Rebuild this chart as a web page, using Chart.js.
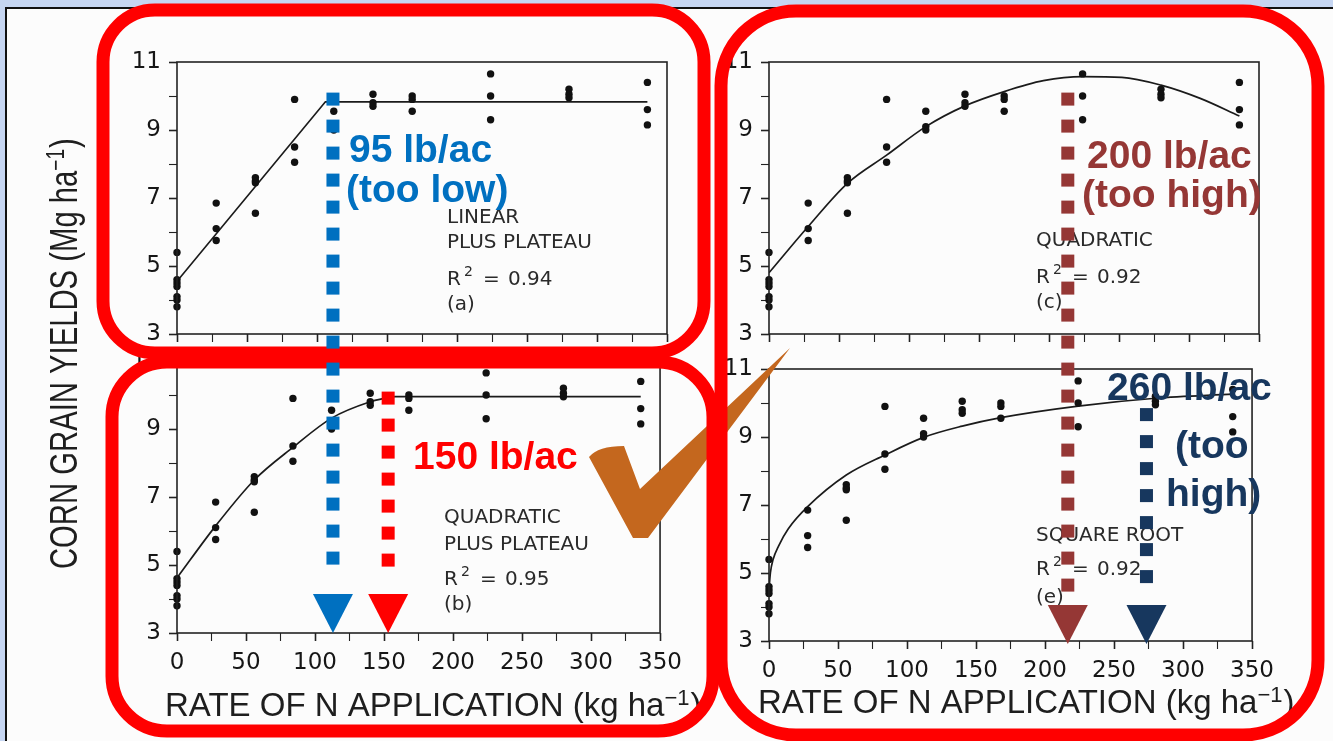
<!DOCTYPE html>
<html>
<head>
<meta charset="utf-8">
<script src="https://cdn.jsdelivr.net/npm/chart.js@4.4.1/dist/chart.umd.min.js"></script>
<style>
  html, body { margin: 0; padding: 0; }
  body { width: 1333px; height: 741px; background: #c6d6f2; position: relative; overflow: hidden; }
  #sheet { position: absolute; left: 5px; top: 7px; width: 1328px; height: 734px; background: #fcfcfc;
           border-left: 2px solid #111; border-top: 2px solid #111; box-sizing: border-box; }
  canvas.panel { position: absolute; }
  #overlay { position: absolute; left: 0; top: 0; pointer-events: none; }
</style>
</head>
<body>
<div id="sheet"></div>
<canvas id="chartA" class="panel" width="600" height="320" style="left:90px;top:40px"></canvas>
<canvas id="chartB" class="panel" width="600" height="344" style="left:90px;top:339px"></canvas>
<canvas id="chartC" class="panel" width="600" height="320" style="left:682px;top:40px"></canvas>
<canvas id="chartE" class="panel" width="600" height="344" style="left:682px;top:347px"></canvas>
<canvas id="overlay" width="1333" height="741"></canvas>

<script>
/* ---- observed yields (Mg/ha) per N rate (kg/ha) ---- */
const nRates    = [0, 28, 56, 84, 112, 140, 168, 224, 280, 336];
const yields0   = [5.4, 4.6, 4.5, 4.4, 4.1, 4.0, 3.8];
const yields28  = [6.85, 6.1, 5.75];
const yields56  = [7.6, 7.5, 7.45, 6.55];
const yields84  = [9.9, 8.5, 8.05];
const yields112 = [9.55, 9.1, 9.0];
const yields140 = [10.05, 9.8, 9.7];
const yields168 = [10.0, 9.9, 9.55];
const yields224 = [10.65, 10.0, 9.3];
const yields280 = [10.2, 10.05, 9.95];
const yields336 = [10.4, 9.6, 9.15];
const yieldsByRate = [yields0, yields28, yields56, yields84, yields112,
                      yields140, yields168, yields224, yields280, yields336];

/* ---- fitted curves ---- */
const linPlatN  = [0, 106, 336];
const linPlatY  = [4.55, 9.83, 9.83];
const quadPlatN = [0, 28, 56, 84, 112, 140, 150, 158, 336];
const quadPlatY = [4.62, 6.15, 7.5, 8.46, 9.32, 9.8, 9.9, 9.95, 9.95];
const quadN     = [0, 28, 56, 84, 112, 140, 168, 196, 224, 252, 280, 308, 336];
const quadY     = [4.8, 6.16, 7.43, 8.26, 9.1, 9.71, 10.13, 10.45, 10.57, 10.55, 10.32, 9.93, 9.41];
const sqrtN     = [0, 1, 3, 7, 14, 28, 56, 84, 112, 140, 168, 224, 280, 336];
const sqrtY     = [4.5, 5.0, 5.4, 5.8, 6.3, 6.95, 7.88, 8.47, 8.99, 9.32, 9.57, 9.91, 10.14, 10.26];

/* ---- tick labels ---- */
const xTickLabels = [0, 50, 100, 150, 200, 250, 300, 350];
const yTickLabels = [3, 5, 7, 9, 11];

/* ---- panel notes ---- */
const notesA = ['LINEAR', 'PLUS PLATEAU'];
const notesB = ['QUADRATIC', 'PLUS PLATEAU'];
const notesC = ['QUADRATIC'];
const notesE = ['SQUARE ROOT'];
const r2Values  = ['0.94', '0.95', '0.92', '0.92'];
const panelTags = ['(a)', '(b)', '(c)', '(e)'];

/* ---- economic optimum arrows (kg N/ha on the x scale) ---- */
const optimumRates  = [113, 153, 216.5, 273.5];
const optimumTopY   = [10.1, 10.1, 10.1, 9.85];
const optimumColors = ['#0070c0', '#ff0000', '#953735', '#17375e'];

const TICK_FONT = { family: 'DejaVu Sans', size: 23 };

const framePlugin = {
  id: 'frame',
  afterDatasetsDraw(chart) {
    const { ctx, chartArea: a } = chart;
    ctx.save();
    ctx.strokeStyle = '#222';
    ctx.lineWidth = 1.6;
    ctx.strokeRect(a.left, a.top, a.right - a.left, a.bottom - a.top);
    ctx.restore();
  }
};

function makePanel(id, curveN, curveY, opts) {
  const pts = [];
  nRates.forEach((n, i) => yieldsByRate[i].forEach(v => pts.push({ x: n, y: v })));
  const curve = curveN.map((n, i) => ({ x: n, y: curveY[i] }));

  return new Chart(document.getElementById(id), {
    type: 'scatter',
    data: {
      datasets: [
        {
          data: curve,
          showLine: true,
          borderColor: '#1b1b1b',
          borderWidth: 1.7,
          pointRadius: 0,
          tension: 0,
          cubicInterpolationMode: opts.straight ? 'default' : 'monotone',
          order: 2,
        },
        {
          data: pts,
          pointRadius: 3.7,
          pointBackgroundColor: '#111',
          pointBorderWidth: 0,
          clip: false,
          order: 1,
        },
      ],
    },
    options: {
      responsive: false,
      animation: false,
      events: [],
      layout: { padding: { top: 22, right: 23, left: 0, bottom: 0 } },
      plugins: { legend: { display: false }, tooltip: { enabled: false } },
      scales: {
        x: {
          type: 'linear', min: 0, max: 350,
          afterFit: s => { s.height = opts.xh; },
          ticks: {
            stepSize: 25, autoSkip: false, maxRotation: 0, padding: 8,
            color: '#161616', font: TICK_FONT,
            callback: v => (opts.xLabels && xTickLabels.includes(v)) ? v : '',
          },
          grid: {
            drawOnChartArea: false, tickLength: 8, tickColor: '#222',
            tickWidth: c => (c.tick && c.tick.value % 50 === 0) ? 1.6 : 1.1,
          },
          border: { display: false },
        },
        y: {
          min: 3, max: 11,
          afterFit: s => { s.width = 87; },
          ticks: {
            stepSize: 1, padding: 8, color: '#161616', font: TICK_FONT,
            callback: v => yTickLabels.includes(v) ? v : '',
          },
          grid: {
            drawOnChartArea: false, tickLength: 8, tickColor: '#222',
            tickWidth: c => (c.tick && c.tick.value % 2 === 1) ? 1.6 : 1.1,
          },
          border: { display: false },
        },
      },
    },
    plugins: [framePlugin],
  });
}

const chartA = makePanel('chartA', linPlatN, linPlatY, { straight: true, xLabels: false, xh: 26 });
const chartB = makePanel('chartB', quadPlatN, quadPlatY, { straight: false, xLabels: true, xh: 50 });
const chartC = makePanel('chartC', quadN, quadY, { straight: false, xLabels: false, xh: 26 });
const chartE = makePanel('chartE', sqrtN, sqrtY, { straight: false, xLabels: true, xh: 50 });

/* ---- overlay: titles, notes, slide annotations ---- */
const ov = document.getElementById('overlay').getContext('2d');

function canvasOffset(chart) {
  const el = chart.canvas;
  return { x: el.offsetLeft, y: el.offsetTop };
}
function px(chart, n) { return canvasOffset(chart).x + chart.scales.x.getPixelForValue(n); }
function py(chart, v) { return canvasOffset(chart).y + chart.scales.y.getPixelForValue(v); }

// text with a raised part, e.g. ha^-1
function supText(parts, x, y, size, supSize, rise) {
  parts.forEach(p => {
    ov.font = `${p.sup ? supSize : size}px "Liberation Sans", Arial, sans-serif`;
    ov.fillText(p.t, x, p.sup ? y - rise : y);
    x += ov.measureText(p.t).width + (p.sup ? 1 : 0);
  });
}

ov.fillStyle = '#1e1e1e';
ov.textBaseline = 'alphabetic';
const xTitle = [{ t: 'RATE OF N APPLICATION (kg ha' }, { t: '\u22121', sup: true }, { t: ')' }];
supText(xTitle, 165, 716, 33, 22, 11);
supText(xTitle, 758, 713, 33, 22, 11);

// y title, condensed and rotated
ov.save();
ov.translate(77, 354);
ov.rotate(-Math.PI / 2);
ov.scale(0.77, 1);
const yTitle = [{ t: 'CORN GRAIN YIELDS (Mg ha' }, { t: '\u22121', sup: true }, { t: ')' }];
let yw = 0;
yTitle.forEach(p => { ov.font = `${p.sup ? 25 : 38}px "Liberation Sans"`; yw += ov.measureText(p.t).width; });
supText(yTitle, -yw / 2, 0, 38, 25, 13);
ov.restore();

// panel notes
function panelNote(chart, lines, lineY, r2, r2Y, tag, tagY, dx) {
  const a = chart.chartArea, o = canvasOffset(chart);
  const x = o.x + a.left + dx;
  ov.fillStyle = '#2a2a2a';
  ov.font = '20px "DejaVu Sans"';
  lines.forEach((t, i) => ov.fillText(t, x, o.y + a.top + lineY[i]));
  const yr = o.y + a.top + r2Y;
  ov.fillText('R', x, yr);
  ov.font = '14px "DejaVu Sans"';
  ov.fillText('2', x + 17, yr - 9);
  ov.font = '20px "DejaVu Sans"';
  ov.fillText('=', x + 36, yr);
  ov.fillText(r2, x + 61, yr);
  ov.fillText(tag, x, o.y + a.top + tagY);
}
panelNote(chartA, notesA, [161, 186], r2Values[0], 223, panelTags[0], 248, 270);
panelNote(chartB, notesB, [162, 189], r2Values[1], 224, panelTags[1], 249, 267);
panelNote(chartC, notesC, [184], r2Values[2], 221, panelTags[2], 246, 267);
panelNote(chartE, notesE, [172], r2Values[3], 206, panelTags[3], 234, 267);

// check mark
ov.fillStyle = '#c4671e';
ov.beginPath();
ov.moveTo(589, 457);
ov.quadraticCurveTo(598, 446, 624, 446);
ov.lineTo(640, 489);
ov.lineTo(790, 348);
ov.lineTo(648, 538);
ov.lineTo(633, 538);
ov.closePath();
ov.fill();

// red rounded frames
function roundFrame(x0, y0, x1, y1, r) {
  ov.beginPath();
  ov.moveTo(x0 + r, y0);
  ov.arcTo(x1, y0, x1, y1, r);
  ov.arcTo(x1, y1, x0, y1, r);
  ov.arcTo(x0, y1, x0, y0, r);
  ov.arcTo(x0, y0, x1, y0, r);
  ov.closePath();
  ov.stroke();
}
ov.strokeStyle = '#ff0000';
ov.lineWidth = 13;
roundFrame(103, 10, 704, 353, 52);
roundFrame(112, 362, 713, 731, 55);
roundFrame(721, 11, 1318, 735, 75);

// dotted arrows
function dottedArrow(x, yTop, yTip, color) {
  const sq = 13, step = 27, headW = 40, headH = 39;
  const headTop = yTip - headH;
  ov.fillStyle = color;
  for (let y = yTop; y + sq <= headTop - 5; y += step) ov.fillRect(x - sq / 2, y, sq, sq);
  ov.beginPath();
  ov.moveTo(x - headW / 2, headTop);
  ov.lineTo(x + headW / 2, headTop);
  ov.lineTo(x, yTip);
  ov.closePath();
  ov.fill();
}
dottedArrow(px(chartB, optimumRates[0]), py(chartA, optimumTopY[0]), py(chartB, 3), optimumColors[0]);
dottedArrow(px(chartB, optimumRates[1]), py(chartB, optimumTopY[1]), py(chartB, 3), optimumColors[1]);
dottedArrow(px(chartE, optimumRates[2]), py(chartC, optimumTopY[2]), py(chartE, 3) + 3, optimumColors[2]);
dottedArrow(px(chartE, optimumRates[3]), py(chartE, optimumTopY[3]), py(chartE, 3) + 3, optimumColors[3]);

// bold labels
ov.font = 'bold 39px "Liberation Sans", Arial, sans-serif';
ov.fillStyle = optimumColors[0];
ov.fillText('95 lb/ac', 349, 162);
ov.fillText('(too low)', 346, 202);
ov.fillStyle = optimumColors[1];
ov.fillText('150 lb/ac', 413, 469);
ov.fillStyle = optimumColors[2];
ov.fillText('200 lb/ac', 1087, 168);
ov.fillText('(too high)', 1082, 207);
ov.fillStyle = optimumColors[3];
ov.fillText('260 lb/ac', 1107, 400);
ov.fillText('(too', 1175, 458);
ov.fillText('high)', 1166, 506);
</script>
</body>
</html>
